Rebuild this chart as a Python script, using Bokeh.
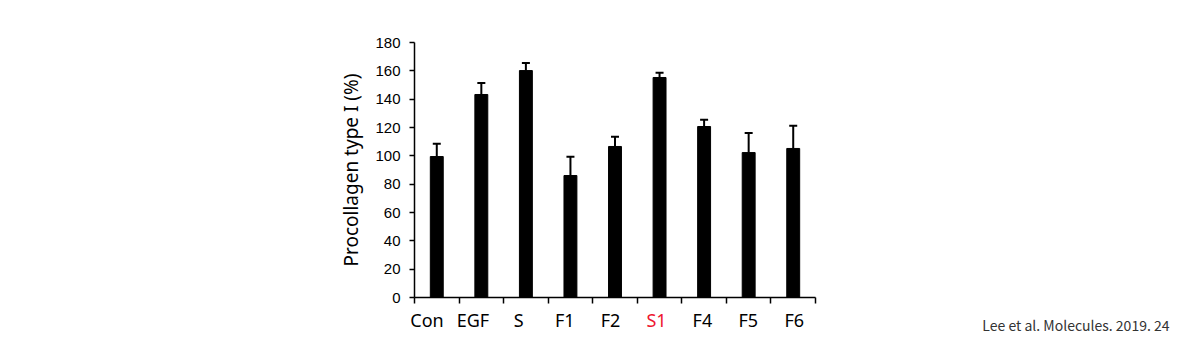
import math
from bokeh.plotting import figure
from bokeh.models import Range1d, FixedTicker, Whisker, TeeHead, ColumnDataSource, LinearAxis
from bokeh.core.properties import value
from bokeh.embed import file_html
from bokeh.resources import INLINE

categories = ["Con", "EGF", "S", "F1", "F2", "S1", "F4", "F5", "F6"]
values = [99.5, 143.3, 160.2, 86.1, 106.6, 155.3, 120.7, 102.3, 105.2]
errors = [9.0, 8.2, 5.4, 13.2, 6.9, 3.3, 4.7, 13.9, 16.0]
y_ticks = [0, 20, 40, 60, 80, 100, 120, 140, 160, 180]
highlight = "S1"
y_title = "Procollagen type I (%)"
citation = "Lee et al. Molecules. 2019. 24"

n = len(categories)
y_max = y_ticks[-1]
xs = [i + 0.5 for i in range(n)]
uppers = [v + e for v, e in zip(values, errors)]
colors = ["#ee1530" if c == highlight else "black" for c in categories]

# layout (pixels): axis origin at (414, 297), y=180 at 42, axes end at x=815
px_per_y = (297 - 42) / y_max
px_per_x = (815 - 414) / n
frame_left, frame_right, frame_top, frame_bottom = 300, 1180, 20, 340
y_lo = -(frame_bottom - 297) / px_per_y
y_hi = (297 - frame_top) / px_per_y
x_lo = -(414 - frame_left) / px_per_x
x_hi = (frame_right - 414) / px_per_x

# category labels sit on a slightly wider pitch than the bars (as in the original)
label_pitch = 45.9
label_start = 12.5
label_dx = [label_start + label_pitch * i - px_per_x * x for i, x in enumerate(xs)]

src = ColumnDataSource(dict(x=xs, top=values, upper=uppers, cat=categories, color=colors,
                            y0=[0] * n, dx=label_dx))

p = figure(width=1184, height=344, output_backend="svg", toolbar_location=None,
           x_range=Range1d(x_lo, x_hi), y_range=Range1d(y_lo, y_hi),
           x_axis_location=None, y_axis_location=None,
           min_border_left=frame_left, min_border_right=1184 - frame_right,
           min_border_top=frame_top, min_border_bottom=344 - frame_bottom)
p.outline_line_color = None
p.xgrid.visible = False
p.ygrid.visible = False

p.vbar(x="x", top="top", width=0.29, bottom=0, color="black", source=src)
w = Whisker(base="x", lower="top", upper="upper", source=src, line_width=2, line_color="black",
            upper_head=TeeHead(size=8, line_width=2, line_color="black"), lower_head=None)
p.add_layout(w)

# y axis drawn at x=0
ya = LinearAxis(fixed_location=0, bounds=(0, y_max),
                ticker=FixedTicker(ticks=y_ticks, minor_ticks=[]))
ya.axis_line_width = 1.5
ya.axis_line_color = "black"
ya.major_tick_out = 5
ya.major_tick_in = 0
ya.major_tick_line_width = 1.5
ya.major_label_standoff = 9
ya.major_label_text_font = "Liberation Sans"
ya.major_label_text_font_size = "15px"
ya.major_label_text_color = "black"
p.add_layout(ya, "left")

# x axis drawn at y=0, ticks at category boundaries pointing down
xa = LinearAxis(fixed_location=0, bounds=(0, n),
                ticker=FixedTicker(ticks=[], minor_ticks=list(range(n + 1))))
xa.axis_line_width = 1.5
xa.axis_line_color = "black"
xa.major_tick_out = 0
xa.major_tick_in = 0
xa.minor_tick_out = 0
xa.minor_tick_in = 6
xa.minor_tick_line_width = 1.5
xa.minor_tick_line_color = "black"
xa.major_label_text_font_size = "0px"
p.add_layout(xa, "above")

# y axis title
p.text(x=[0], y=[y_max / 2], text=[y_title], angle=math.pi / 2, x_offset=-64,
       text_align="center", text_baseline="middle",
       text_font=value("Noto Sans"), text_font_size="19px", text_color="black")

# category labels
p.text(x="x", y="y0", text="cat", source=src, text_color="color", x_offset="dx", y_offset=22,
       text_align="center", text_baseline="alphabetic",
       text_font=value("Noto Sans"), text_font_size="18px")

# citation anchored at the end of the axis
p.text(x=[n], y=[0], text=[citation], x_offset=354, y_offset=27,
       text_align="right", text_baseline="alphabetic",
       text_font=value("Noto Sans CJK KR"), text_font_size="14px", text_color="#333333")

open("out.html", "w").write(file_html(p, INLINE))
